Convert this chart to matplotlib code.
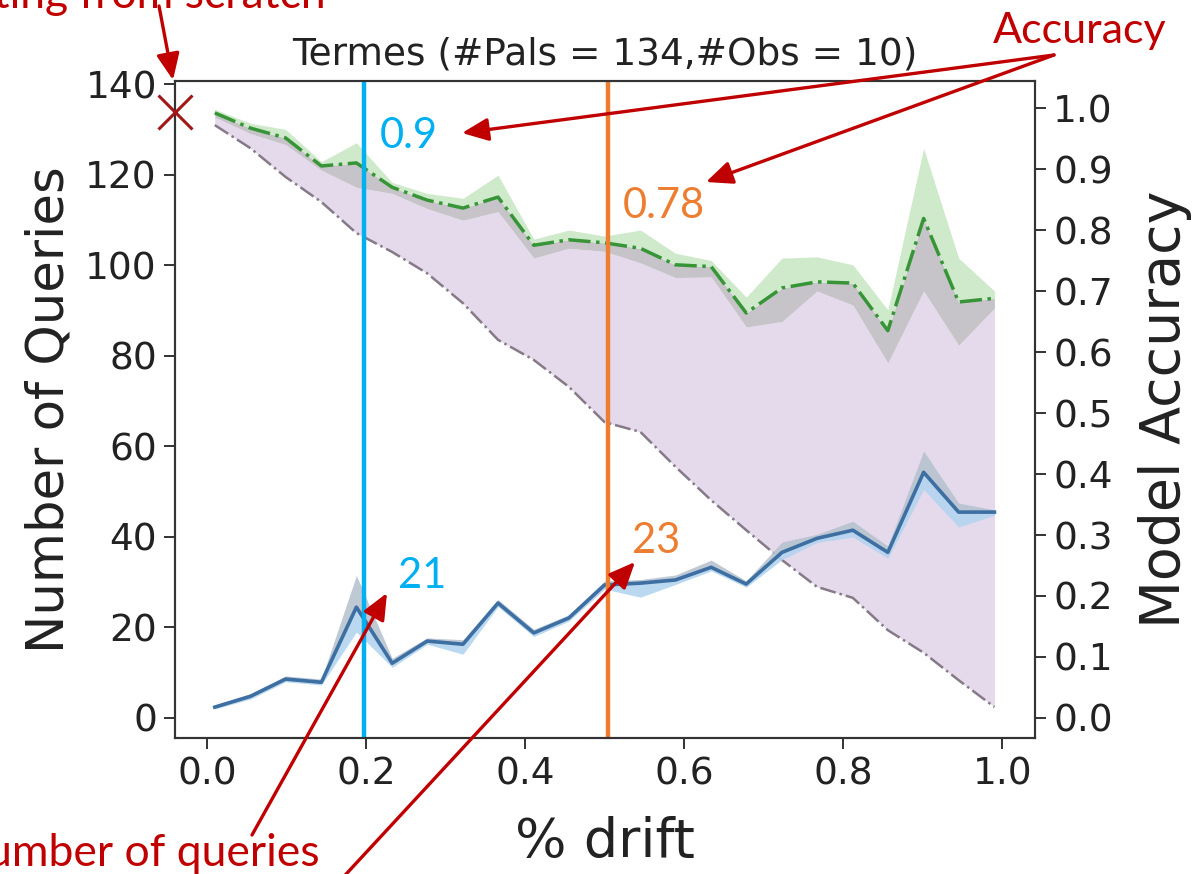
import numpy as np
import matplotlib
matplotlib.use("Agg")
import matplotlib.pyplot as plt

# ---------------- data ----------------
drift = [0.010, 0.055, 0.099, 0.144, 0.188, 0.233, 0.277, 0.322, 0.366, 0.411, 0.455, 0.500,
         0.545, 0.589, 0.634, 0.678, 0.723, 0.767, 0.812, 0.856, 0.901, 0.945, 0.990]

queries = [2.4, 4.8, 8.6, 7.9, 24.5, 12.1, 17.0, 16.3, 25.4, 18.8, 22.1, 29.4,
           29.8, 30.5, 33.3, 29.6, 36.6, 39.7, 41.5, 36.6, 54.3, 45.5, 45.5]
queries_lo = [2.0, 4.2, 8.0, 7.3, 19.0, 11.2, 16.3, 14.1, 24.6, 18.0, 21.4, 28.5,
              26.7, 29.5, 32.5, 28.9, 35.0, 38.8, 40.0, 35.3, 50.5, 42.2, 44.8]
queries_hi = [2.9, 5.4, 9.3, 8.6, 31.5, 13.2, 17.7, 17.3, 26.2, 19.6, 22.8, 30.3,
              30.6, 31.6, 34.9, 30.3, 38.9, 40.6, 43.5, 38.0, 59.0, 47.5, 46.0]

acc = [0.992, 0.967, 0.951, 0.905, 0.910, 0.870, 0.849, 0.836, 0.854, 0.775, 0.784, 0.779,
       0.770, 0.743, 0.740, 0.664, 0.705, 0.715, 0.713, 0.635, 0.819, 0.682, 0.688]
acc_lo = [0.985, 0.958, 0.940, 0.898, 0.870, 0.860, 0.835, 0.816, 0.830, 0.754, 0.770, 0.765,
          0.746, 0.722, 0.723, 0.641, 0.650, 0.700, 0.677, 0.582, 0.700, 0.611, 0.672]
acc_hi = [0.998, 0.975, 0.965, 0.912, 0.943, 0.878, 0.860, 0.852, 0.890, 0.785, 0.800, 0.790,
          0.800, 0.762, 0.750, 0.690, 0.754, 0.756, 0.743, 0.669, 0.934, 0.754, 0.700]

baseline_acc = [0.972, 0.934, 0.887, 0.846, 0.795, 0.764, 0.729, 0.680, 0.620, 0.587, 0.543, 0.485,
                0.469, 0.412, 0.357, 0.308, 0.259, 0.215, 0.197, 0.144, 0.107, 0.062, 0.018]

scratch_x, scratch_q = -0.04, 134
vline_blue, vline_orange = 0.197, 0.504
label_blue_acc, label_orange_acc = "0.9", "0.78"
label_blue_q, label_orange_q = "21", "23"

# ---------------- figure ----------------
W, H = 1193, 874
fig = plt.figure(figsize=(W / 100, H / 100), dpi=100)
fig.patch.set_facecolor("white")

def fp(x, y):
    """pixel (from top-left) -> figure fraction"""
    return (x / W, 1 - y / H)

ax = fig.add_axes([175 / W, 1 - 738 / H, (1035 - 175) / W, (738 - 81) / H])
ax2 = ax.twinx()
ax.set_zorder(ax2.get_zorder() + 1)
ax.patch.set_visible(False)

# accuracy side (right axis)
ax2.fill_between(drift, baseline_acc, acc_lo, color="#e5d9ec", lw=0)
ax2.fill_between(drift, acc_lo, acc, color="#c6c4c9", lw=0)
ax2.fill_between(drift, acc, acc_hi, color="#cfeacb", lw=0)
ax2.plot(drift, baseline_acc, ls="-.", color="#857a86", lw=1.8)
ax2.plot(drift, acc, ls="-.", color="#379437", lw=2.5)

# queries side (left axis)
ax.fill_between(drift, queries_lo, queries, color="#b3d4ef", lw=0, alpha=0.9)
ax.fill_between(drift, queries, queries_hi, color="#b7c3d0", lw=0, alpha=0.9)
ax.plot(drift, queries, color="#3d6fa3", lw=2.6)

ax.axvline(vline_blue, color="#00b0f0", lw=3.2)
ax.axvline(vline_orange, color="#ed7d31", lw=3.2)

ax.plot([scratch_x], [scratch_q], marker="x", ms=24, mew=2.2, color="#a01818",
        ls="none", clip_on=False, zorder=10)

ax.set_xlim(-0.04, 1.041)
ax.set_ylim(-4.42, 140.77)
ax2.set_ylim(-0.0328, 1.0443)
ax.set_xticks([0.0, 0.2, 0.4, 0.6, 0.8, 1.0])
ax.set_yticks([0, 20, 40, 60, 80, 100, 120, 140])
ax2.set_yticks([0.0, 0.1, 0.2, 0.3, 0.4, 0.5, 0.6, 0.7, 0.8, 0.9, 1.0])

for a in (ax, ax2):
    for s in a.spines.values():
        s.set_color("#333333")
        s.set_linewidth(1.5)
    a.tick_params(labelsize=27, length=8, width=1.4, colors="#333333", labelcolor="#222222", pad=5)

ax.set_xlabel("% drift", fontsize=39, color="#222222", labelpad=17)
ax.set_ylabel("Number of Queries", fontsize=37, color="#222222", labelpad=8)
ax2.set_ylabel("Model Accuracy", fontsize=40, color="#222222", labelpad=18)
ax.set_title("Termes (#Pals = 134,#Obs = 10)", fontsize=27, color="#222222", pad=12)

# ---------------- annotations ----------------
tf = ["Lato", "DejaVu Sans"]
fig.text(*fp(380, 148), label_blue_acc, fontsize=30, color="#00b0f0", family=tf)
fig.text(*fp(623, 218), label_orange_acc, fontsize=30, color="#ed7d31", family=tf)
fig.text(*fp(398, 588), label_blue_q, fontsize=30, color="#00b0f0", family=tf)
fig.text(*fp(632, 553), label_orange_q, fontsize=30, color="#ed7d31", family=tf)

red = "#c00000"
fig.text(*fp(993, 43), "Accuracy", fontsize=31, color=red, family=tf)
fig.text(*fp(326, 8), "Starting from scratch", fontsize=32, color=red, family=tf, ha="right")
fig.text(*fp(320, 866), "Number of queries", fontsize=32, color=red, family=tf, ha="right")

aprops = dict(arrowstyle="-|>,head_length=0.8,head_width=0.35", color=red, lw=2.4,
              mutation_scale=20, shrinkA=0, shrinkB=0)

def arrow(tail, head):
    ax.annotate("", xy=fp(*head), xytext=fp(*tail), xycoords="figure fraction",
                textcoords="figure fraction", arrowprops=aprops, annotation_clip=False,
                zorder=20)

arrow((159, 6), (173, 80))
arrow((1054, 55), (462, 133))
arrow((1054, 55), (706, 182))
arrow((252, 835), (387, 593))
arrow((336, 885), (635, 562))

fig.savefig("out.png", dpi=100, facecolor="white")
